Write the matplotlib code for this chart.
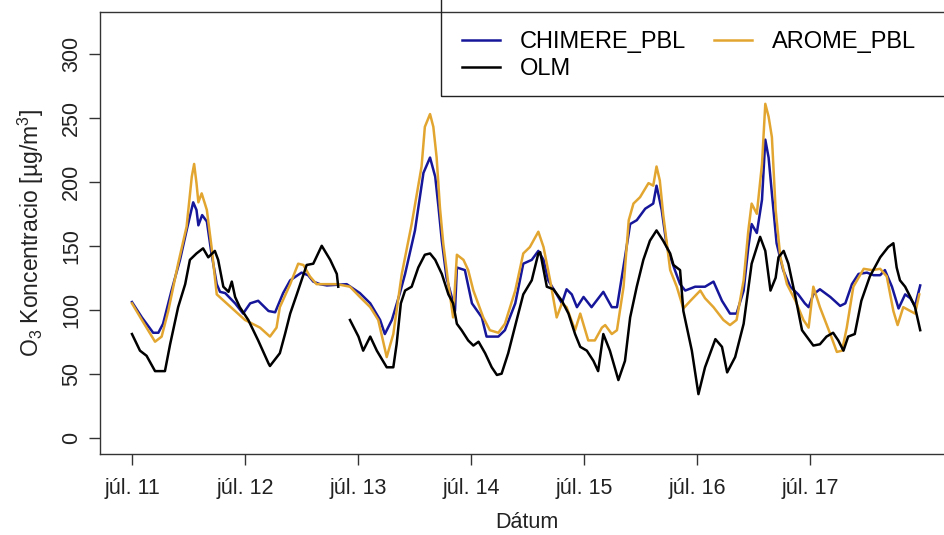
import numpy as np
import matplotlib
matplotlib.use("Agg")
import matplotlib.pyplot as plt
from matplotlib.patches import Rectangle

# órák júl. 11 00:00-tól, leolvasott értékek
chimere_h = [0, 2.1, 4.5, 5.6, 6.6, 8.4, 10.2, 11.6, 13.0, 13.7, 14.1, 14.9, 15.9, 16.8, 18.0, 18.7,
             19.8, 21.9, 23.6, 25.1, 26.8, 29.0, 30.4, 32.1, 33.6, 36.0, 37.4, 38.5, 39.9, 41.4, 45.6,
             48.4, 50.6, 52.7, 53.7, 55.2, 56.9, 58.0, 60.1, 61.9, 63.3, 64.4, 65.1, 65.8, 66.8, 67.9,
             68.6, 69.0, 70.7, 72.2, 74.3, 75.3, 77.8, 79.2, 81.4, 83.1, 84.9, 86.3, 87.4, 88.4, 90.2,
             91.3, 92.3, 93.4, 94.5, 95.9, 97.6, 100.1, 101.9, 103.0, 104.7, 105.8, 107.2, 109.0, 110.7,
             111.4, 112.5, 113.6, 115.3, 116.4, 117.5, 119.6, 121.7, 123.5, 125.3, 127.0, 128.4, 129.9,
             130.9, 131.6, 132.7, 133.8, 134.5, 135.2, 135.9, 136.9, 138.3, 139.8, 141.5, 142.9, 143.7,
             144.7, 146.1, 148.3, 150.4, 151.5, 152.9, 154.3, 156.1, 157.5, 158.9, 159.9, 161.4, 162.8,
             164.2, 165.3, 166.3, 167.4]
chimere_v = [106, 94, 82, 82, 89, 115, 139, 162, 184, 178, 166, 174, 169, 146, 120, 114,
             113, 105, 97, 105, 107, 99, 98, 113, 123, 129, 127, 122, 120, 119, 120,
             113, 105, 92, 81, 92, 113, 128, 162, 207, 219, 204, 180, 154, 125, 110,
             99, 133, 131, 105, 94, 79, 79, 84, 105, 136, 139, 146, 139, 123, 112,
             105, 116, 112, 102, 110, 102, 114, 102, 102, 141, 167, 170, 179, 183,
             197, 178, 149, 131, 120, 115, 118, 118, 122, 107, 97, 97, 115,
             149, 167, 160, 186, 233, 219, 191, 152, 131, 118, 112, 105, 102,
             112, 116, 110, 103, 105, 120, 128, 129, 127, 127, 131, 118, 101,
             112, 109, 103, 119]

arome_h = [0, 2.1, 4.9, 6.3, 7.7, 9.8, 11.6, 12.7, 13.2, 13.7, 14.1, 14.8, 15.9, 16.9, 18.0, 19.8,
           21.9, 24.0, 27.2, 29.3, 30.7, 31.4, 33.6, 35.3, 36.4, 37.8, 39.2, 43.5, 46.3, 48.4, 50.6,
           52.3, 54.1, 55.5, 57.3, 59.4, 61.5, 62.2, 63.3, 64.0, 64.7, 65.4, 66.1, 67.2, 68.2, 69.0,
           70.4, 71.4, 72.5, 74.6, 76.0, 77.8, 79.2, 81.4, 83.1, 84.5, 86.3, 87.4, 88.8, 90.2, 91.3,
           92.3, 94.1, 95.2, 96.9, 98.3, 99.8, 100.5, 101.9, 103.0, 104.4, 105.5, 106.5, 107.9, 109.7,
           110.7, 111.4, 112.1, 112.8, 114.3, 115.7, 117.1, 118.6, 120.7, 121.7, 123.5, 125.6, 127.0,
           128.4, 129.9, 130.9, 131.6, 132.7, 133.8, 134.5, 135.2, 135.9, 136.7, 137.7, 139.1, 140.9,
           142.6, 143.7, 144.7, 146.1, 148.3, 149.7, 150.8, 151.8, 153.2, 155.4, 157.1, 158.9, 160.3,
           161.7, 162.6, 163.8, 165.3, 166.3, 167.2]
arome_v = [105, 92, 75, 79, 99, 136, 165, 204, 214, 199, 184, 191, 178, 149, 112, 106,
           99, 92, 86, 79, 86, 102, 120, 136, 135, 126, 120, 120, 118, 110, 102,
           92, 63, 81, 128, 167, 212, 243, 253, 243, 219, 180, 152, 120, 94, 143,
           139, 131, 115, 94, 84, 82, 89, 115, 144, 149, 161, 149, 123, 94, 105,
           102, 84, 97, 76, 76, 86, 88, 81, 84, 118, 170, 183, 188, 199,
           197, 212, 201, 175, 131, 118, 101, 107, 115, 109, 102, 92, 88,
           92, 123, 162, 183, 175, 214, 261, 251, 235, 178, 141, 120, 107,
           92, 86, 118, 102, 81, 67, 68, 86, 118, 132, 131, 132, 126,
           99, 88, 102, 99, 97, 112]

olm_h = [0, 1.7, 3.1, 4.9, 7.0, 8.1, 9.8, 11.3, 12.3, 13.7, 15.1, 16.2, 17.6, 18.3, 19.4, 20.5,
         21.2, 21.9, 22.9, 24.7, 26.8, 29.0, 29.3, 31.4, 32.5, 33.6, 35.0, 37.1, 38.5, 40.3, 42.1,
         43.5, 43.8, 45.0, 46.3, 48.1, 49.1, 50.6, 52.0, 54.1, 55.5, 56.2, 57.1, 58.0, 59.4, 60.8,
         62.2, 63.3, 64.4, 65.8, 67.2, 68.2, 69.0, 70.0, 71.4, 72.5, 73.6, 75.0, 76.4, 77.5, 78.5,
         79.9, 81.7, 83.1, 84.9, 86.3, 86.7, 88.1, 89.5, 91.3, 92.7, 94.1, 95.2, 96.6, 98.0, 99.0,
         100.1, 101.5, 103.3, 104.7, 105.8, 107.2, 108.6, 110.0, 111.4, 112.8, 114.3, 115.0, 116.4,
         117.1, 118.9, 120.3, 121.7, 123.9, 125.3, 126.4, 128.1, 129.9, 131.6, 133.4, 134.5, 135.6,
         136.7, 137.3, 138.4, 139.4, 140.9, 142.3, 144.7, 146.1, 147.5, 148.9, 150.0, 151.1, 152.1,
         153.5, 154.9, 156.7, 158.9, 160.6, 161.7, 162.4, 163.1, 164.2, 165.3, 166.3, 167.4]
olm_v = [81, 68, 64, 52, 52, 73, 102, 120, 139, 144, 148, 141, 146, 139, 118, 114,
         122, 110, 102, 92, 76, 58, 56, 66, 81, 97, 112, 135, 136, 150, 139,
         128, 118, np.nan, 92, 79, 68, 79, 68, 55, 55, 73, 105, 115, 118, 133,
         143, 144, 139, 128, 112, 105, 89, 84, 76, 72, 75, 66, 55, 49, 50,
         66, 92, 112, 123, 144, 145, 118, 116, 107, 97, 81, 71, 68, 60, 52,
         81, 68, 45, 60, 94, 118, 139, 154, 162, 154, 144, 135, 131,
         99, 68, 34, 55, 77, 71, 51, 63, 89, 136, 157, 146, 115,
         125, 141, 146, 136, 110, 84, 72, 73, 79, 82, 76, 68, 79,
         81, 107, 126, 141, 149, 152, 133, 123, 118, 110, 102, 84]

day_labels = ["júl. 11", "júl. 12", "júl. 13", "júl. 14", "júl. 15", "júl. 16", "júl. 17"]
y_ticks = [0, 50, 100, 150, 200, 250, 300]

plt.rcParams["font.family"] = ["Liberation Sans", "DejaVu Sans"]
plt.rcParams["mathtext.fontset"] = "custom"
plt.rcParams["mathtext.rm"] = "Liberation Sans"
plt.rcParams["mathtext.it"] = "Liberation Sans:italic"

W, H = 944, 535
fig = plt.figure(figsize=(W / 100, H / 100), dpi=100)
# a keret jobb oldala kilóg a képből (mint az eredetin)
ax = fig.add_axes([100 / W, 81 / H, 854 / W, 442 / H])

col_blue = "#16169a"
col_gold = "#e2a630"
txt_col = "#222222"

l1, = ax.plot(np.array(chimere_h) / 24, chimere_v, color=col_blue, lw=1.8, label="CHIMERE_PBL")
l2, = ax.plot(np.array(arome_h) / 24, arome_v, color=col_gold, lw=1.8, label="AROME_PBL")
l3, = ax.plot(np.array(olm_h) / 24, olm_v, color="black", lw=1.8, label="OLM")

ax.set_xlim(-0.283, 7.274)
ax.set_ylim(-12.8, 332.8)
ax.set_xticks(range(len(day_labels)))
ax.set_xticklabels(day_labels)
ax.set_yticks(y_ticks)
ax.set_yticklabels([str(v) for v in y_ticks], rotation=90, va="center")
ax.tick_params(length=8, width=1, color="#333333", labelsize=15.5, labelcolor=txt_col)
ax.tick_params(axis="x", pad=9.5)
ax.tick_params(axis="y", pad=5)
for s in ax.spines.values():
    s.set_color("#333333")
    s.set_linewidth(1)

ax.set_xlabel("Dátum", fontsize=15.5, color=txt_col, labelpad=9)
ax.set_ylabel(r"O$_3$ Koncentracio [µg/m$^3$]", fontsize=16.5, color=txt_col, labelpad=11)

# jelmagyarázat keret
ax.add_patch(Rectangle((341 / 854, (454 - 96) / 442), 1.0, 1.0, transform=ax.transAxes,
                       fill=False, edgecolor=txt_col, lw=1, clip_on=False, zorder=5))
ax.legend(handles=[l1, l3, l2], ncol=2, loc="upper left",
          bbox_to_anchor=((462 - 100) / 854, (454 - 31) / 442),
          frameon=False, fontsize=17, handlelength=1.6, handletextpad=0.85,
          columnspacing=1.2, labelspacing=0.22, borderpad=0, borderaxespad=0)

fig.savefig("out.png", dpi=100)
